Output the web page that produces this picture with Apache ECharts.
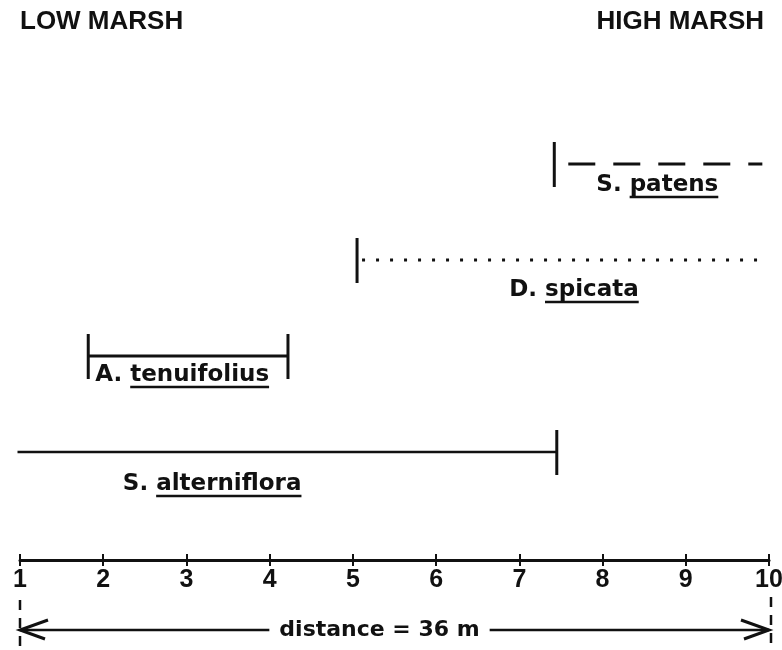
<!DOCTYPE html>
<html>
<head>
<meta charset="utf-8">
<title>Marsh zonation</title>
<script src="https://cdn.jsdelivr.net/npm/echarts@6/dist/echarts.min.js"></script>
<style>
  html, body { margin: 0; padding: 0; background: #fff; overflow: hidden; }
  #chart { width: 782px; height: 650px; }
</style>
</head>
<body>
<div id="chart"></div>
<script>
// Species occurring along the transect, listed bottom row first
const genus = ['S.', 'A.', 'D.', 'S.'];
const epithet = ['alterniflora', 'tenuifolius', 'spicata', 'patens'];
// Extent of each species along the transect (scale units 1-10)
const rangeStart = [0.97, 1.82, 5.05, 7.42];
const rangeEnd = [7.45, 4.22, 9.95, 9.92];
// Scale ticks
const tickValues = [1, 2, 3, 4, 5, 6, 7, 8, 9, 10];
const tickLabels = ['1', '2', '3', '4', '5', '6', '7', '8', '9', '10'];
// Annotations
const lowLabel = 'LOW MARSH';
const highLabel = 'HIGH MARSH';
const distanceLabel = 'distance = 36 m';

// Layout
const GRID_LEFT = 20, GRID_RIGHT = 13, GRID_TOP = 116, GRID_H = 384, AXIS_OFFSET = 60;
const INK = '#111';
const LABEL_FONT = { size: 23, family: '"DejaVu Sans", sans-serif', weight: 'bold' };

// Drawing style for each species row
const rowStyle = [
  { dash: null, width: 2.5, gap: 0, bars: [false, true], label: { from: 'center', dx: -75, dy: 32, align: 'center' } },
  { dash: null, width: 3, gap: 0, bars: [true, true], label: { from: 'start', dx: 7, dy: 19, align: 'left' } },
  { dash: [3, 11], width: 3, gap: 5, bars: [true, false], label: { from: 'center', dx: 13, dy: 30, align: 'center' } },
  { dash: [27, 18], width: 3, gap: 14, bars: [true, false], label: { from: 'center', dx: -1, dy: 21, align: 'center' } }
];

const measureCtx = document.createElement('canvas').getContext('2d');
function textWidth(str, size, weight, family) {
  measureCtx.font = weight + ' ' + size + 'px ' + family;
  return measureCtx.measureText(str).width;
}

const rows = genus.map((g, i) => [rangeStart[i], rangeEnd[i], i]);

function renderRange(params, api) {
  const i = params.dataIndex;
  const st = rowStyle[i];
  const a = api.coord([api.value(0), api.value(2)]);
  const b = api.coord([api.value(1), api.value(2)]);
  const y = a[1];
  const children = [];
  children.push({
    type: 'line',
    shape: { x1: a[0] + st.gap, y1: y, x2: b[0], y2: y },
    style: { stroke: INK, lineWidth: st.width, lineDash: st.dash || null, lineCap: 'butt' }
  });
  [a[0], b[0]].forEach((x, k) => {
    if (st.bars[k]) {
      children.push({
        type: 'line',
        shape: { x1: x, y1: y - 22, x2: x, y2: y + 23 },
        style: { stroke: INK, lineWidth: 3 }
      });
    }
  });
  // Label: genus plain, species epithet underlined
  const f = LABEL_FONT;
  const g = genus[i] + ' ';
  const e = epithet[i];
  const wg = textWidth(g, f.size, f.weight, f.family);
  const we = textWidth(e, f.size, f.weight, f.family);
  const anchor = st.label.from === 'start' ? a[0] : (a[0] + b[0]) / 2;
  let lx = anchor + st.label.dx;
  if (st.label.align === 'center') lx -= (wg + we) / 2;
  const ly = y + st.label.dy;
  const common = { fill: INK, fontSize: f.size, fontFamily: f.family, fontWeight: f.weight, align: 'left', verticalAlign: 'middle' };
  children.push({ type: 'text', x: lx, y: ly, style: Object.assign({ text: g }, common) });
  children.push({ type: 'text', x: lx + wg, y: ly, style: Object.assign({ text: e }, common) });
  children.push({
    type: 'line',
    shape: { x1: lx + wg, y1: ly + 12, x2: lx + wg + we, y2: ly + 12 },
    style: { stroke: INK, lineWidth: 2.5 }
  });
  return { type: 'group', children: children };
}

const chart = echarts.init(document.getElementById('chart'), null, { renderer: 'canvas', width: 782, height: 650 });

const baseX = {
  type: 'value', min: tickValues[0], max: tickValues[tickValues.length - 1], interval: 1,
  position: 'bottom', offset: AXIS_OFFSET, splitLine: { show: false }
};

chart.setOption({
  animation: false,
  backgroundColor: '#fff',
  grid: {
    left: GRID_LEFT, right: GRID_RIGHT, top: GRID_TOP, height: GRID_H,
    containLabel: false, outerBoundsMode: 'none'
  },
  xAxis: [
    Object.assign({}, baseX, {
      axisLine: { show: true, lineStyle: { color: INK, width: 3 } },
      axisTick: { show: true, inside: false, length: 6, lineStyle: { color: INK, width: 2 } },
      axisLabel: {
        show: true, margin: 8, color: INK, fontSize: 25, fontWeight: 'bold', fontFamily: '"Liberation Sans", Arial, sans-serif',
        formatter: v => tickLabels[tickValues.indexOf(v)] || ''
      }
    }),
    Object.assign({}, baseX, {
      axisLine: { show: false },
      axisTick: { show: true, inside: true, length: 6, lineStyle: { color: INK, width: 2 } },
      axisLabel: { show: false }
    })
  ],
  yAxis: {
    type: 'category', data: genus.map((g, i) => g + ' ' + epithet[i]),
    show: false
  },
  series: [{
    type: 'custom',
    renderItem: renderRange,
    clip: false,
    encode: { x: [0, 1], y: 2 },
    data: rows
  }]
});

// Header labels, scale extent markers and the distance arrow
const x1 = chart.convertToPixel({ xAxisIndex: 0 }, tickValues[0]);
const x10 = chart.convertToPixel({ xAxisIndex: 0 }, tickValues[tickValues.length - 1]);
const axisY = GRID_TOP + GRID_H + AXIS_OFFSET;
const arrowY = axisY + 70;
const dFont = { size: 22, weight: 'bold', family: '"DejaVu Sans", sans-serif' };
const dw = textWidth(distanceLabel, dFont.size, dFont.weight, dFont.family);
const dCenter = (x1 + x10) / 2 - 15;
const headFont = { fontSize: 26, fontWeight: 'bold', fontFamily: '"Liberation Sans", Arial, sans-serif', fill: INK };

chart.setOption({
  graphic: [
    { type: 'text', x: x1, y: 22, style: Object.assign({ text: lowLabel, align: 'left', verticalAlign: 'middle' }, headFont) },
    { type: 'text', x: x10 - 5, y: 22, style: Object.assign({ text: highLabel, align: 'right', verticalAlign: 'middle' }, headFont) },
    { type: 'line', shape: { x1: x1, y1: axisY + 40, x2: x1, y2: 650 }, style: { stroke: INK, lineWidth: 2.5, lineDash: [10, 8] } },
    { type: 'line', shape: { x1: x10 + 2, y1: axisY + 37, x2: x10 + 2, y2: 650 }, style: { stroke: INK, lineWidth: 2.5, lineDash: [10, 8] } },
    { type: 'line', shape: { x1: x1, y1: arrowY, x2: dCenter - dw / 2 - 10, y2: arrowY }, style: { stroke: INK, lineWidth: 2.5 } },
    { type: 'line', shape: { x1: dCenter + dw / 2 + 10, y1: arrowY, x2: x10, y2: arrowY }, style: { stroke: INK, lineWidth: 2.5 } },
    { type: 'polyline', shape: { points: [[x1 + 28, arrowY - 10], [x1, arrowY], [x1 + 25, arrowY + 9]] }, style: { stroke: INK, lineWidth: 3, fill: null } },
    { type: 'polyline', shape: { points: [[x10 - 28, arrowY - 10], [x10, arrowY], [x10 - 25, arrowY + 9]] }, style: { stroke: INK, lineWidth: 3, fill: null } },
    { type: 'text', x: dCenter, y: arrowY, style: { text: distanceLabel, align: 'center', verticalAlign: 'middle', fill: INK, fontSize: dFont.size, fontWeight: dFont.weight, fontFamily: dFont.family } }
  ]
});
</script>
</body>
</html>
